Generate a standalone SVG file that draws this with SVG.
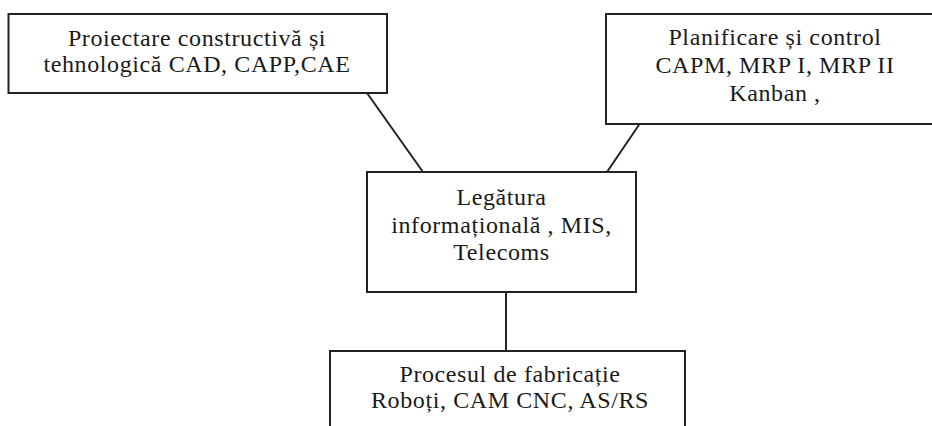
<svg xmlns="http://www.w3.org/2000/svg" width="932" height="426" viewBox="0 0 932 426">
<style>
.box{fill:#fff;stroke:#222;stroke-width:2}
.lnk{stroke:#222;stroke-width:2;fill:none}
.t{font-family:'Liberation Serif','Times New Roman','DejaVu Serif',serif;font-size:24px;letter-spacing:0.6px;fill:#1a1a1a;text-anchor:middle}
</style>
<rect width="932" height="426" fill="#fff"/>
<g id="connectors">
<line class="lnk" x1="367" y1="93" x2="423" y2="172"/>
<line class="lnk" x1="647" y1="113" x2="607" y2="172"/>
<line class="lnk" x1="506" y1="292" x2="506" y2="351"/>
</g>
<g id="n1">
<rect class="box" x="8.5" y="14" width="378.5" height="79"/>
<text class="t" x="197" y="46" font-family="Liberation Serif, serif">Proiectare constructivă și</text>
<text class="t" x="197" y="72" font-family="Liberation Serif, serif">tehnologică CAD, CAPP,CAE</text>
</g>
<g id="n2">
<rect class="box" x="606" y="14" width="340" height="110"/>
<text class="t" x="775" y="45">Planificare și control</text>
<text class="t" x="775" y="73">CAPM, MRP I, MRP II</text>
<text class="t" x="775" y="101">Kanban ,</text>
</g>
<g id="n3">
<rect class="box" x="367" y="172" width="269" height="120"/>
<text class="t" x="501.5" y="205">Legătura</text>
<text class="t" x="501.5" y="233">informațională , MIS,</text>
<text class="t" x="501.5" y="260">Telecoms</text>
</g>
<g id="n4">
<rect class="box" x="330" y="351" width="355" height="90"/>
<text class="t" x="510" y="382">Procesul de fabricație</text>
<text class="t" x="510" y="408">Roboți, CAM CNC, AS/RS</text>
</g>
</svg>
